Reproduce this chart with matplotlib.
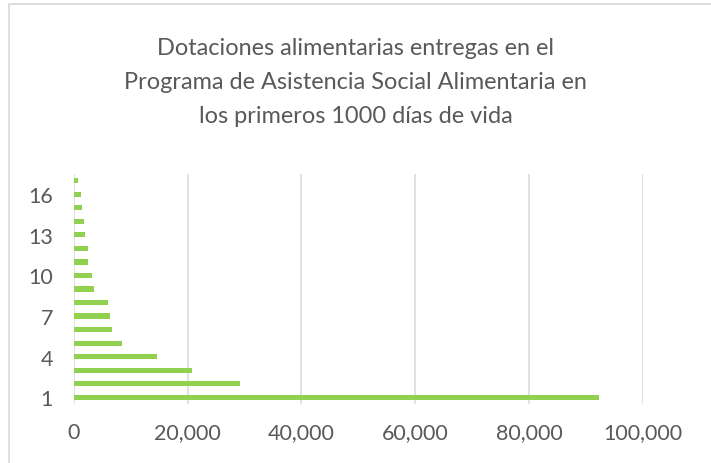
import matplotlib.pyplot as plt
from matplotlib.lines import Line2D
from matplotlib.ticker import FuncFormatter

# categories 1..17 and their values
categories = list(range(1, 18))
values = [92300, 29200, 20700, 14600, 8400, 6800, 6300, 6000,
          3500, 3200, 2500, 2500, 1900, 1800, 1500, 1200, 800]
ytick_labels = [1, 4, 7, 10, 13, 16]
xticks = [0, 20000, 40000, 60000, 80000, 100000]

title = ("Dotaciones alimentarias entregas en el\n"
         "Programa de Asistencia Social Alimentaria en\n"
         "los primeros 1000 días de vida")

txtcolor = '#595959'
fontfamily = ['Lato', 'DejaVu Sans']

fig = plt.figure(figsize=(7.11, 4.64), dpi=100)
ax = fig.add_axes([0.1037, 0.127, 0.8003, 0.496])

ax.barh(categories, values, height=0.39, color='#92D050', zorder=3)

ax.set_xlim(0, 100000)
ax.set_ylim(0.5, 17.5)
ax.set_xticks(xticks)
ax.xaxis.set_major_formatter(FuncFormatter(lambda v, p: f"{int(v):,}"))
ax.set_yticks(ytick_labels)

ax.grid(axis='x', color='#D9D9D9', linewidth=1.1, zorder=0)
ax.grid(axis='y', visible=False)
for s in ['top', 'bottom', 'left', 'right']:
    ax.spines[s].set_visible(False)
ax.tick_params(length=0, labelsize=15.5, colors=txtcolor)
ax.tick_params(axis='y', pad=15)
ax.tick_params(axis='x', pad=13)
for lbl in ax.get_xticklabels() + ax.get_yticklabels():
    lbl.set_family(fontfamily)

fig.text(0.5, 0.823, title, ha='center', va='center', fontsize=16.9,
         color=txtcolor, family=fontfamily, linespacing=1.77)

# chart frame (only left and top edges fall inside the picture)
fig.lines.append(Line2D([9 / 711, 9 / 711, 1.0], [0.0, 1 - 5 / 464, 1 - 5 / 464],
                        transform=fig.transFigure, color='#D9D9D9', linewidth=1.2))

fig.savefig('out.png', dpi=100)
